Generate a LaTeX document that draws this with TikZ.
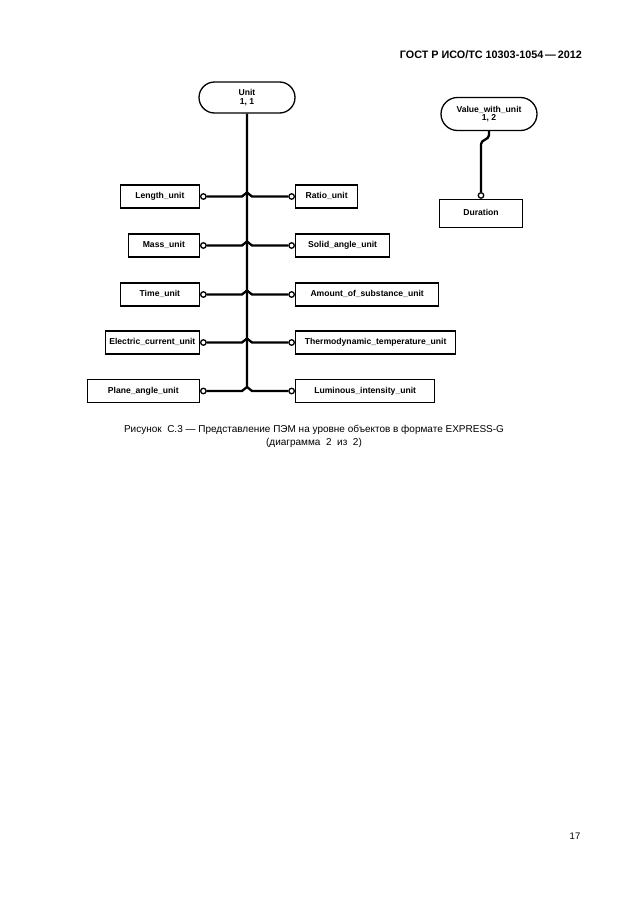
\documentclass[tikz,border=0pt]{standalone}
\usepackage{fontspec}
\setmainfont{Liberation Sans}
\usetikzlibrary{shapes.misc}

\begin{document}
\begin{tikzpicture}
[every node/.style={inner sep=0pt},
 entity/.style={rectangle, draw=black, line width=1.3pt, minimum height=23pt, text height=6.3pt, text depth=1.8pt, font=\bfseries\fontsize{8.6}{9.2}\selectfont},
 selectbox/.style={rounded rectangle, draw=black, line width=1.3pt, minimum width=96pt, align=center, font=\bfseries\fontsize{8.6}{8.6}\selectfont},
 port/.style={circle, minimum size=5.5pt, draw=black, line width=1.3pt, fill=white},
 link/.style={line width=2.3pt, color=black}]
\useasboundingbox (0pt, 0pt) rectangle (630pt, -913pt);
\node (head) [anchor=east, font=\bfseries\fontsize{10.8}{12}\selectfont] at (582pt, -55pt) {ГОСТ Р ИСО/ТС 10303-1054\,—\,2012};
\node (unit) [selectbox, minimum height=31pt] at (247pt, -97.5pt) {Unit\\1, 1};
\node (vwu) [selectbox, minimum height=33pt] at (489pt, -114pt) {Value\_with\_unit\\1, 2};
\node (dur) [entity, minimum width=83pt, minimum height=28pt] at (481pt, -213.5pt) {Duration};
\node (dp) [port, anchor=south] at (dur.north) {};
\node (len) [entity, anchor=east, minimum width=79pt] at (200pt, -196.5pt) {Length\_unit};
\node (mass) [entity, anchor=east, minimum width=71pt] at (200pt, -245.5pt) {Mass\_unit};
\node (time) [entity, anchor=east, minimum width=79pt] at (200pt, -294.5pt) {Time\_unit};
\node (elec) [entity, anchor=east, minimum width=94pt] at (200pt, -342.5pt) {Electric\_current\_unit};
\node (plane) [entity, anchor=east, minimum width=112pt] at (200pt, -391pt) {Plane\_angle\_unit};
\node (ratio) [entity, anchor=west, minimum width=62pt] at (295pt, -196.5pt) {Ratio\_unit};
\node (solid) [entity, anchor=west, minimum width=94pt] at (295pt, -245.5pt) {Solid\_angle\_unit};
\node (amount) [entity, anchor=west, minimum width=143pt] at (295pt, -294.5pt) {Amount\_of\_substance\_unit};
\node (thermo) [entity, anchor=west, minimum width=160pt] at (295pt, -342.5pt) {Thermodynamic\_temperature\_unit};
\node (lum) [entity, anchor=west, minimum width=139pt] at (295pt, -391pt) {Luminous\_intensity\_unit};
\node (lp1) [port, anchor=west] at (len.east) {};
\node (lp2) [port, anchor=west] at (mass.east) {};
\node (lp3) [port, anchor=west] at (time.east) {};
\node (lp4) [port, anchor=west] at (elec.east) {};
\node (lp5) [port, anchor=west] at (plane.east) {};
\node (rp1) [port, anchor=east] at (ratio.west) {};
\node (rp2) [port, anchor=east] at (solid.west) {};
\node (rp3) [port, anchor=east] at (amount.west) {};
\node (rp4) [port, anchor=east] at (thermo.west) {};
\node (rp5) [port, anchor=east] at (lum.west) {};
\draw [link] (unit) -- ([yshift=4pt]unit.south |- lp5);
\draw [link] (lp1) -- ([xshift=-5pt]unit.south |- lp1) -- ([yshift=4pt]unit.south |- lp1) -- ([xshift=5pt]unit.south |- lp1) -- (rp1);
\draw [link] (lp2) -- ([xshift=-5pt]unit.south |- lp2) -- ([yshift=4pt]unit.south |- lp2) -- ([xshift=5pt]unit.south |- lp2) -- (rp2);
\draw [link] (lp3) -- ([xshift=-5pt]unit.south |- lp3) -- ([yshift=4pt]unit.south |- lp3) -- ([xshift=5pt]unit.south |- lp3) -- (rp3);
\draw [link] (lp4) -- ([xshift=-5pt]unit.south |- lp4) -- ([yshift=4pt]unit.south |- lp4) -- ([xshift=5pt]unit.south |- lp4) -- (rp4);
\draw [link] (lp5) -- ([xshift=-5pt]unit.south |- lp5) -- ([yshift=4pt]unit.south |- lp5) -- ([xshift=5pt]unit.south |- lp5) -- (rp5);
\draw [link] (vwu.south) -- ++(0pt, -4pt) to [out=-90, in=90] ++(-8pt, -9pt) -- (dp);
\node (cap) [align=center, font=\fontsize{10}{13}\selectfont] at (314pt, -436.5pt) {Рисунок\ \ С.3 — Представление ПЭМ на уровне объектов в формате EXPRESS-G\\(диаграмма\ \ 2\ \ из\ \ 2)};
\node (page) [font=\fontsize{9.5}{11}\selectfont] at (575pt, -836pt) {17};
\end{tikzpicture}
\end{document}
